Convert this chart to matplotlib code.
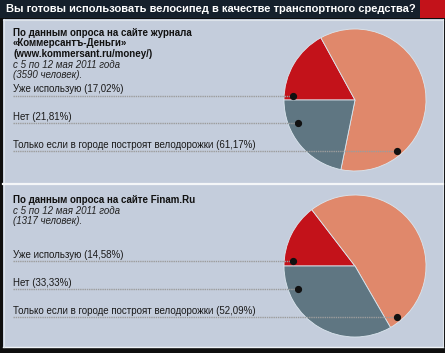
import matplotlib
matplotlib.use('Agg')
import matplotlib.pyplot as plt
from matplotlib.patches import Rectangle

W, H = 445, 353

title = 'Вы готовы использовать велосипед в качестве транспортного средства?'

# panel 1 : Kommersant-Dengi poll
head1 = ['По данным опроса на сайте журнала', '«Коммерсантъ-Деньги»', '(www.kommersant.ru/money/)']
sub1 = ['с 5 по 12 мая 2011 года', '(3590 человек).']
cats = ['Уже использую', 'Нет', 'Только если в городе построят велодорожки']
vals1 = [17.02, 21.81, 61.17]

# panel 2 : Finam.Ru poll
head2 = ['По данным опроса на сайте Finam.Ru']
sub2 = ['с 5 по 12 мая 2011 года', '(1317 человек).']
vals2 = [14.58, 33.33, 52.09]

colors = ['#c3121a', '#5f7682', '#e0886b']

plt.rcParams['font.family'] = ['Liberation Sans', 'DejaVu Sans']

fig = plt.figure(figsize=(W / 100, H / 100), dpi=100)
fig.patch.set_facecolor('#0e0e0e')
ax = fig.add_axes([0, 0, 1, 1])


def Y(y):
    return H - y


def fmt(v):
    return ('%.2f' % v).replace('.', ',')


# background
ax.add_patch(Rectangle((3, Y(347)), 440, 347 - 19, fc='#c4cddc', ec='none'))
ax.plot([3, 443], [Y(346.5), Y(346.5)], color='#eef2f6', lw=1)
ax.plot([3.5, 3.5], [Y(19), Y(347)], color='#dde3ea', lw=0.8)
ax.plot([442.5, 442.5], [Y(19), Y(347)], color='#dde3ea', lw=0.8)
ax.plot([3, 443], [Y(19.5), Y(19.5)], color='#dde3ea', lw=0.8)
ax.plot([3, 443], [Y(184), Y(184)], color='#f4f6f8', lw=1.6)
ax.add_patch(Rectangle((0, Y(17.5)), W, 17.5, fc='#15202c', ec='none'))
ax.add_patch(Rectangle((419.5, Y(17.5)), 25.5, 17.5, fc='#c3121a', ec='none'))
ax.text(6, Y(9), title, color='white', fontsize=8, fontweight='bold', va='center', ha='left')


def panel(top, heads, subs, vals, cy, label_y, dots):
    y = top
    for s in heads:
        ax.text(13, Y(y), s, fontsize=7, fontweight='bold', color='#111111', va='center')
        y += 10.5
    for s in subs:
        ax.text(13, Y(y), s, fontsize=7, style='italic', color='#222222', va='center')
        y += 10
    # pie: red, salmon, gray clockwise from the left
    order = [0, 2, 1]
    ax.pie([vals[i] for i in order], colors=[colors[i] for i in order],
           startangle=180, counterclock=False, center=(355, Y(cy)), radius=71,
           wedgeprops=dict(edgecolor='#dbe6ee', linewidth=0.6), frame=True)
    for i, c in enumerate(cats):
        ly = label_y[i]
        ax.text(13, Y(ly), '%s (%s%%)' % (c, fmt(vals[i])), fontsize=7, color='#1a1a1a', va='center')
        dx, dy = dots[i]
        ax.plot([13, dx], [Y(dy), Y(dy)], color='#9c9c9c', lw=1, ls=(0, (1, 0.6)))
        ax.plot(dx, Y(dy), 'o', color='#111111', ms=4.2)


panel(33, head1, sub1, vals1, 100, [89.5, 117.5, 144.5],
      [(292.7, 95.5), (297.7, 123), (396.7, 151)])
panel(200, head2, sub2, vals2, 266, [255.5, 283.5, 311],
      [(292.7, 261.3), (297.7, 289), (396.7, 316.7)])

ax.set_xlim(0, W)
ax.set_ylim(0, H)
ax.set_aspect('auto')
ax.axis('off')

fig.savefig('out.png', dpi=100, facecolor=fig.get_facecolor())
